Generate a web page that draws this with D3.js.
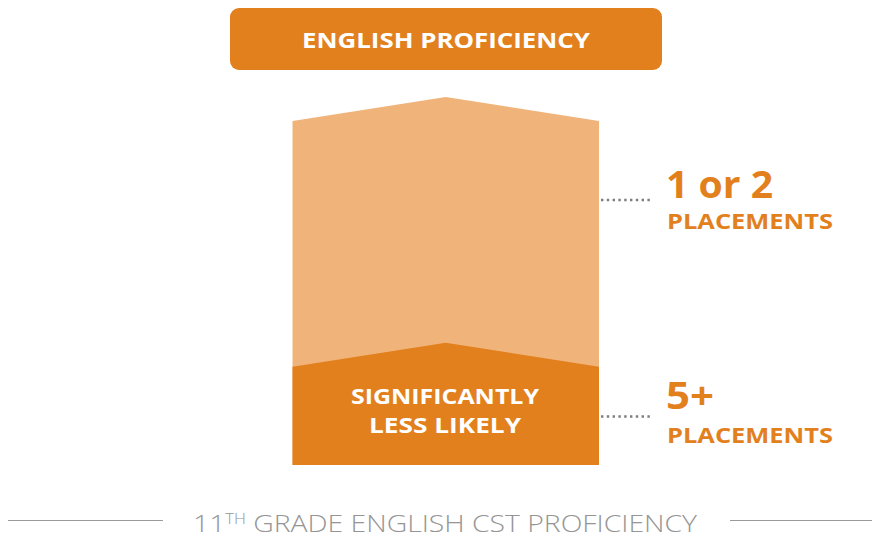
<!DOCTYPE html>
<html><head><meta charset="utf-8">
<script src="https://cdn.jsdelivr.net/npm/d3@7"></script>
<style>html,body{margin:0;padding:0;background:#fff;} svg{display:block;}</style>
</head><body>
<div id="chart"></div>
<script>
// ---- data ----
const title = "ENGLISH PROFICIENCY";
const caption = ["11", "TH", " GRADE ENGLISH CST PROFICIENCY"];
const groups = ["1 or 2", "5+"];
const groupSub = ["PLACEMENTS", "PLACEMENTS"];
const groupHeight = [100, 33.2];      // peak height of each area (relative scale)
const innerLabel = ["", "SIGNIFICANTLY|LESS LIKELY"];
const colors = ["#F0B47B", "#E2801E"];

const W = 872, H = 538;
const svg = d3.select("#chart").append("svg").attr("width", W).attr("height", H);

const x = d3.scaleLinear().domain([0, 1]).range([292.5, 599]);
const y = d3.scaleLinear().domain([0, 100]).range([465, 97]);
const shoulder = 6.5; // drop from peak at the sides

// title box
svg.append("rect").attr("x", 230).attr("y", 8).attr("width", 432).attr("height", 62)
  .attr("rx", 9).attr("fill", "#E2801E");
svg.append("text").attr("x", 446).attr("y", 48).attr("text-anchor", "middle")
  .attr("fill", "#fff").attr("font-family", "Open Sans").attr("font-weight", 700)
  .attr("font-size", 22).attr("textLength", 288).attr("lengthAdjust", "spacingAndGlyphs")
  .text(title);

// areas
const line = d3.line().x(d => x(d[0])).y(d => y(d[1]));
groups.forEach((g, i) => {
  const h = groupHeight[i];
  const pts = [[0, 0], [0, h - shoulder], [0.5, h], [1, h - shoulder], [1, 0]];
  svg.append("path").attr("d", line(pts) + "Z").attr("fill", colors[i]);
});

// inner label
const lines = innerLabel[1].split("|");
const innerY = [404, 433];
lines.forEach((t, j) => {
  svg.append("text").attr("x", 445).attr("y", innerY[j]).attr("text-anchor", "middle")
    .attr("fill", "#fff").attr("font-family", "Open Sans").attr("font-weight", 700)
    .attr("font-size", 22).attr("textLength", j === 0 ? 188 : 152).attr("lengthAdjust", "spacingAndGlyphs")
    .text(t);
});

// leaders & labels
const leaderY = [200, 416.5];
const bigBase = [198, 409];
const bigLen = [107, 48];
const subBase = [229, 443];
groups.forEach((g, i) => {
  svg.append("line").attr("x1", 601).attr("x2", 653).attr("y1", leaderY[i]).attr("y2", leaderY[i])
    .attr("stroke", "#7d7d7d").attr("stroke-width", 2.4).attr("stroke-dasharray", "2.4,3.4");
  svg.append("text").attr("x", 666).attr("y", bigBase[i]).attr("fill", "#E2801E")
    .attr("font-family", "Open Sans").attr("font-weight", 700).attr("font-size", 38)
    .attr("textLength", bigLen[i]).attr("lengthAdjust", "spacingAndGlyphs").text(g);
  svg.append("text").attr("x", 667).attr("y", subBase[i]).attr("fill", "#E2801E")
    .attr("font-family", "Open Sans").attr("font-weight", 700).attr("font-size", 22)
    .attr("textLength", 166).attr("lengthAdjust", "spacingAndGlyphs").text(groupSub[i]);
});

// caption
svg.append("line").attr("x1", 8).attr("x2", 163).attr("y1", 520.5).attr("y2", 520.5)
  .attr("stroke", "#9a9a9a").attr("stroke-width", 1.2);
svg.append("line").attr("x1", 730).attr("x2", 872).attr("y1", 520.5).attr("y2", 520.5)
  .attr("stroke", "#9a9a9a").attr("stroke-width", 1.2);
const cap = svg.append("text").attr("x", 193).attr("y", 532).attr("fill", "#959595")
  .attr("font-family", "Open Sans").attr("font-weight", 300).attr("font-size", 24)
  .attr("textLength", 504).attr("lengthAdjust", "spacingAndGlyphs");
cap.append("tspan").text(caption[0]);
cap.append("tspan").attr("font-size", 14).attr("dy", -8).text(caption[1]);
cap.append("tspan").attr("dy", 8).text(caption[2]);
</script>
</body></html>
